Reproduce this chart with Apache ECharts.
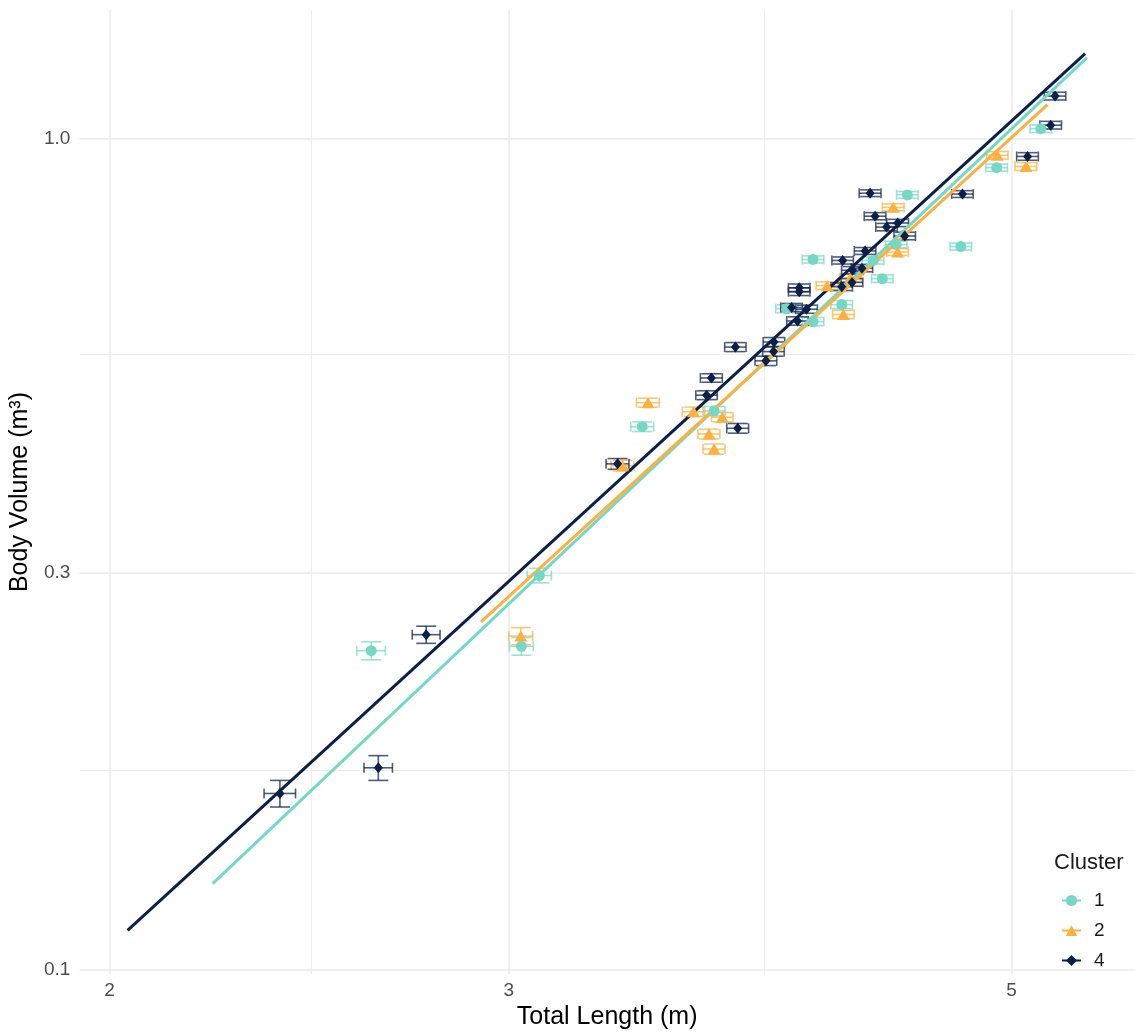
<!DOCTYPE html>
<html>
<head>
<meta charset="utf-8">
<title>Body volume vs total length</title>
<script src="https://cdn.jsdelivr.net/npm/echarts@6/dist/echarts.min.js"></script>
<style>
  html, body { margin: 0; padding: 0; background: #ffffff; }
  #chart { width: 1135px; height: 1035px; }
</style>
</head>
<body>
<div id="chart"></div>
<script>
// ---- data -------------------------------------------------------------
const clusterNames = ['1', '2', '4'];

// Cluster 1
const c1Length    = [5.151, 4.925, 4.498, 4.447, 4.749, 4.087, 4.344, 4.385, 3.979, 4.208, 4.087, 3.696, 3.436, 3.095, 3.039, 2.609];
const c1Volume    = [1.027, 0.922, 0.855, 0.745, 0.741, 0.715, 0.713, 0.678, 0.624, 0.631, 0.602, 0.470, 0.450, 0.298, 0.245, 0.242];
const c1LengthErr = [0.056, 0.054, 0.049, 0.049, 0.052, 0.045, 0.048, 0.048, 0.044, 0.046, 0.045, 0.041, 0.040, 0.038, 0.037, 0.038];
const c1VolumeErr = [0.011, 0.009, 0.008, 0.007, 0.007, 0.007, 0.007, 0.007, 0.007, 0.007, 0.007, 0.006, 0.006, 0.006, 0.006, 0.006];

// Cluster 2
const c2Length    = [4.928, 5.074, 4.434, 4.454, 4.245, 4.146, 4.215, 3.456, 3.620, 3.727, 3.677, 3.696, 3.368, 3.037];
const c2Volume    = [0.954, 0.925, 0.826, 0.730, 0.679, 0.665, 0.614, 0.481, 0.469, 0.462, 0.441, 0.423, 0.404, 0.252];
const c2LengthErr = [0.054, 0.056, 0.049, 0.049, 0.047, 0.046, 0.046, 0.040, 0.041, 0.041, 0.041, 0.041, 0.039, 0.037];
const c2VolumeErr = [0.010, 0.010, 0.008, 0.007, 0.007, 0.007, 0.007, 0.006, 0.006, 0.006, 0.006, 0.006, 0.006, 0.006];

// Cluster 4
const c4Length    = [5.226, 5.203, 5.082, 4.331, 4.757, 4.353, 4.404, 4.454, 4.486, 4.309, 4.212, 4.254, 4.295, 4.208, 4.252, 4.030, 4.030, 3.999, 4.060, 4.023, 3.777, 3.928, 3.926, 3.896, 3.686, 3.668, 3.786, 3.351, 2.759, 2.628, 2.378];
const c4Volume    = [1.124, 1.037, 0.951, 0.859, 0.857, 0.806, 0.782, 0.791, 0.763, 0.732, 0.713, 0.694, 0.698, 0.663, 0.671, 0.661, 0.654, 0.626, 0.623, 0.603, 0.561, 0.569, 0.554, 0.540, 0.515, 0.491, 0.448, 0.406, 0.253, 0.175, 0.163];
const c4LengthErr = [0.057, 0.057, 0.056, 0.048, 0.052, 0.048, 0.048, 0.049, 0.049, 0.047, 0.046, 0.047, 0.047, 0.046, 0.047, 0.044, 0.044, 0.044, 0.045, 0.044, 0.041, 0.043, 0.043, 0.043, 0.041, 0.040, 0.042, 0.039, 0.039, 0.038, 0.038];
const c4VolumeErr = [0.012, 0.011, 0.010, 0.008, 0.008, 0.008, 0.008, 0.008, 0.008, 0.007, 0.007, 0.007, 0.007, 0.007, 0.007, 0.007, 0.007, 0.007, 0.007, 0.007, 0.007, 0.007, 0.007, 0.007, 0.006, 0.006, 0.006, 0.006, 0.006, 0.006, 0.006];

// Fitted log-log regression lines: [length, volume] at each end
const c1Fit = [[2.221, 0.1270], [5.398, 1.250]];
const c2Fit = [[2.917, 0.2622], [5.186, 1.098]];
const c4Fit = [[2.037, 0.1116], [5.388, 1.264]];

// Axes (log scales)
const lengthRange = [1.9396, 5.668];
const volumeRange = [0.09885, 1.4265];
const lengthTicks = [2, 3, 5];
const lengthTickLabels = ['2', '3', '5'];
const volumeTicks = [0.1, 0.3, 1.0];
const volumeTickLabels = ['0.1', '0.3', '1.0'];
const lengthMinorBreaks = [2.449, 3.873];
const volumeMinorBreaks = [0.1732, 0.5477];

// ---- helpers ----------------------------------------------------------
const lg = v => Math.log10(v);

function tickFormatter(ticks, labels) {
  const logs = ticks.map(lg);
  return function (v) {
    const i = logs.findIndex(t => Math.abs(t - v) < 1e-6);
    return i >= 0 ? labels[i] : '';
  };
}

function points(xs, ys) {
  return xs.map((x, i) => [lg(x), lg(ys[i])]);
}

function bars(xs, ys, xe, ye) {
  return xs.map((x, i) => [
    lg(x), lg(ys[i]),
    lg(x - xe[i]), lg(x + xe[i]),
    lg(ys[i] - ye[i]), lg(ys[i] + ye[i])
  ]);
}

// horizontal + vertical error bars with end caps
function errorBarRenderer(color) {
  const capW = 10, capH = 5;
  return function (params, api) {
    const c  = api.coord([api.value(0), api.value(1)]);
    const xl = api.coord([api.value(2), api.value(1)])[0];
    const xh = api.coord([api.value(3), api.value(1)])[0];
    const yl = api.coord([api.value(0), api.value(4)])[1];
    const yh = api.coord([api.value(0), api.value(5)])[1];
    const style = { stroke: color, lineWidth: 1.6, opacity: 0.72, fill: null };
    const seg = (x1, y1, x2, y2) => ({ type: 'line', shape: { x1, y1, x2, y2 }, style });
    return {
      type: 'group',
      children: [
        seg(xl, c[1], xh, c[1]),
        seg(xl, c[1] - capH, xl, c[1] + capH),
        seg(xh, c[1] - capH, xh, c[1] + capH),
        seg(c[0], yl, c[0], yh),
        seg(c[0] - capW, yl, c[0] + capW, yl),
        seg(c[0] - capW, yh, c[0] + capW, yh)
      ]
    };
  };
}

const styleByCluster = {
  '1': { color: '#78D7C4', symbol: 'circle',   size: 11 },
  '2': { color: '#FAB043', symbol: 'triangle', size: [13, 11] },
  '4': { color: '#0C1F47', symbol: 'diamond',  size: [9, 11] }
};

const clusterData = {
  '1': { x: c1Length, y: c1Volume, xe: c1LengthErr, ye: c1VolumeErr, fit: c1Fit },
  '2': { x: c2Length, y: c2Volume, xe: c2LengthErr, ye: c2VolumeErr, fit: c2Fit },
  '4': { x: c4Length, y: c4Volume, xe: c4LengthErr, ye: c4VolumeErr, fit: c4Fit }
};

// ---- series -----------------------------------------------------------
const series = [];

// minor grid lines (kept underneath every mark)
series.push({
  type: 'line',
  data: [],
  silent: true,
  z: 0,
  markLine: {
    z: 0,
    silent: true,
    symbol: ['none', 'none'],
    label: { show: false },
    animation: false,
    lineStyle: { color: '#EEEEEE', width: 1.2, type: 'solid' },
    emphasis: { disabled: true },
    data: lengthMinorBreaks.map(v => ({ xAxis: lg(v) }))
      .concat(volumeMinorBreaks.map(v => ({ yAxis: lg(v) })))
  }
});

// regression lines first so legend keys show line + marker
clusterNames.forEach(name => {
  const s = styleByCluster[name];
  const d = clusterData[name];
  series.push({
    name: name,
    type: 'line',
    data: d.fit.map(p => [lg(p[0]), lg(p[1])]),
    showSymbol: false,
    symbol: s.symbol,
    symbolSize: s.size,
    itemStyle: { color: s.color },
    lineStyle: { color: s.color, width: 3 },
    z: 3,
    silent: true
  });
});

clusterNames.forEach(name => {
  const s = styleByCluster[name];
  const d = clusterData[name];
  series.push({
    name: name,
    type: 'custom',
    data: bars(d.x, d.y, d.xe, d.ye),
    encode: { x: [0, 2, 3], y: [1, 4, 5] },
    renderItem: errorBarRenderer(s.color),
    z: 2,
    silent: true
  });
});

clusterNames.forEach(name => {
  const s = styleByCluster[name];
  const d = clusterData[name];
  series.push({
    name: name,
    type: 'scatter',
    data: points(d.x, d.y),
    symbol: s.symbol,
    symbolSize: s.size,
    itemStyle: { color: s.color, opacity: 1 },
    z: 4
  });
});

// ---- chart ------------------------------------------------------------
const chart = echarts.init(document.getElementById('chart'), null, { renderer: 'canvas' });

const axisTextColor = '#4D4D4D';
const gridColor = '#EBEBEB';

chart.setOption({
  animation: false,
  backgroundColor: '#ffffff',
  textStyle: { fontFamily: '"Liberation Sans", Arial, sans-serif' },
  grid: { left: 77, right: -8, top: 10, bottom: 56, containLabel: false },
  xAxis: {
    type: 'value',
    min: lg(lengthRange[0]),
    max: lg(lengthRange[1]),
    name: 'Total Length (m)',
    nameLocation: 'middle',
    nameGap: 30,
    nameTextStyle: { fontSize: 25, color: '#000000' },
    axisLine: { show: false },
    axisTick: { show: false, customValues: lengthTicks.map(lg) },
    axisLabel: {
      customValues: lengthTicks.map(lg),
      formatter: tickFormatter(lengthTicks, lengthTickLabels),
      fontSize: 19, color: axisTextColor, margin: 7
    },
    splitLine: { show: true, lineStyle: { color: gridColor, width: 1.5 } }
  },
  yAxis: {
    type: 'value',
    min: lg(volumeRange[0]),
    max: lg(volumeRange[1]),
    name: 'Body Volume (m³)',
    nameLocation: 'middle',
    nameGap: 38,
    nameRotate: 90,
    nameTextStyle: { fontSize: 25, color: '#000000' },
    axisLine: { show: false },
    axisTick: { show: false, customValues: volumeTicks.map(lg) },
    axisLabel: {
      customValues: volumeTicks.map(lg),
      formatter: tickFormatter(volumeTicks, volumeTickLabels),
      fontSize: 19, color: axisTextColor, margin: 9
    },
    splitLine: { show: true, lineStyle: { color: gridColor, width: 1.5 } }
  },
  legend: {
    data: clusterNames,
    orient: 'vertical',
    left: 1056,
    top: 886,
    itemWidth: 19,
    itemHeight: 14,
    itemGap: 11,
    selectedMode: false,
    lineStyle: { width: 2 },
    textStyle: { fontSize: 19, color: '#1A1A1A', padding: [0, 0, 0, 8] }
  },
  graphic: [{
    type: 'text',
    left: 1054,
    top: 852,
    style: { text: 'Cluster', fontSize: 22, fill: '#1A1A1A', fontFamily: '"Liberation Sans", Arial, sans-serif' }
  }],
  series: series
});
</script>
</body>
</html>
